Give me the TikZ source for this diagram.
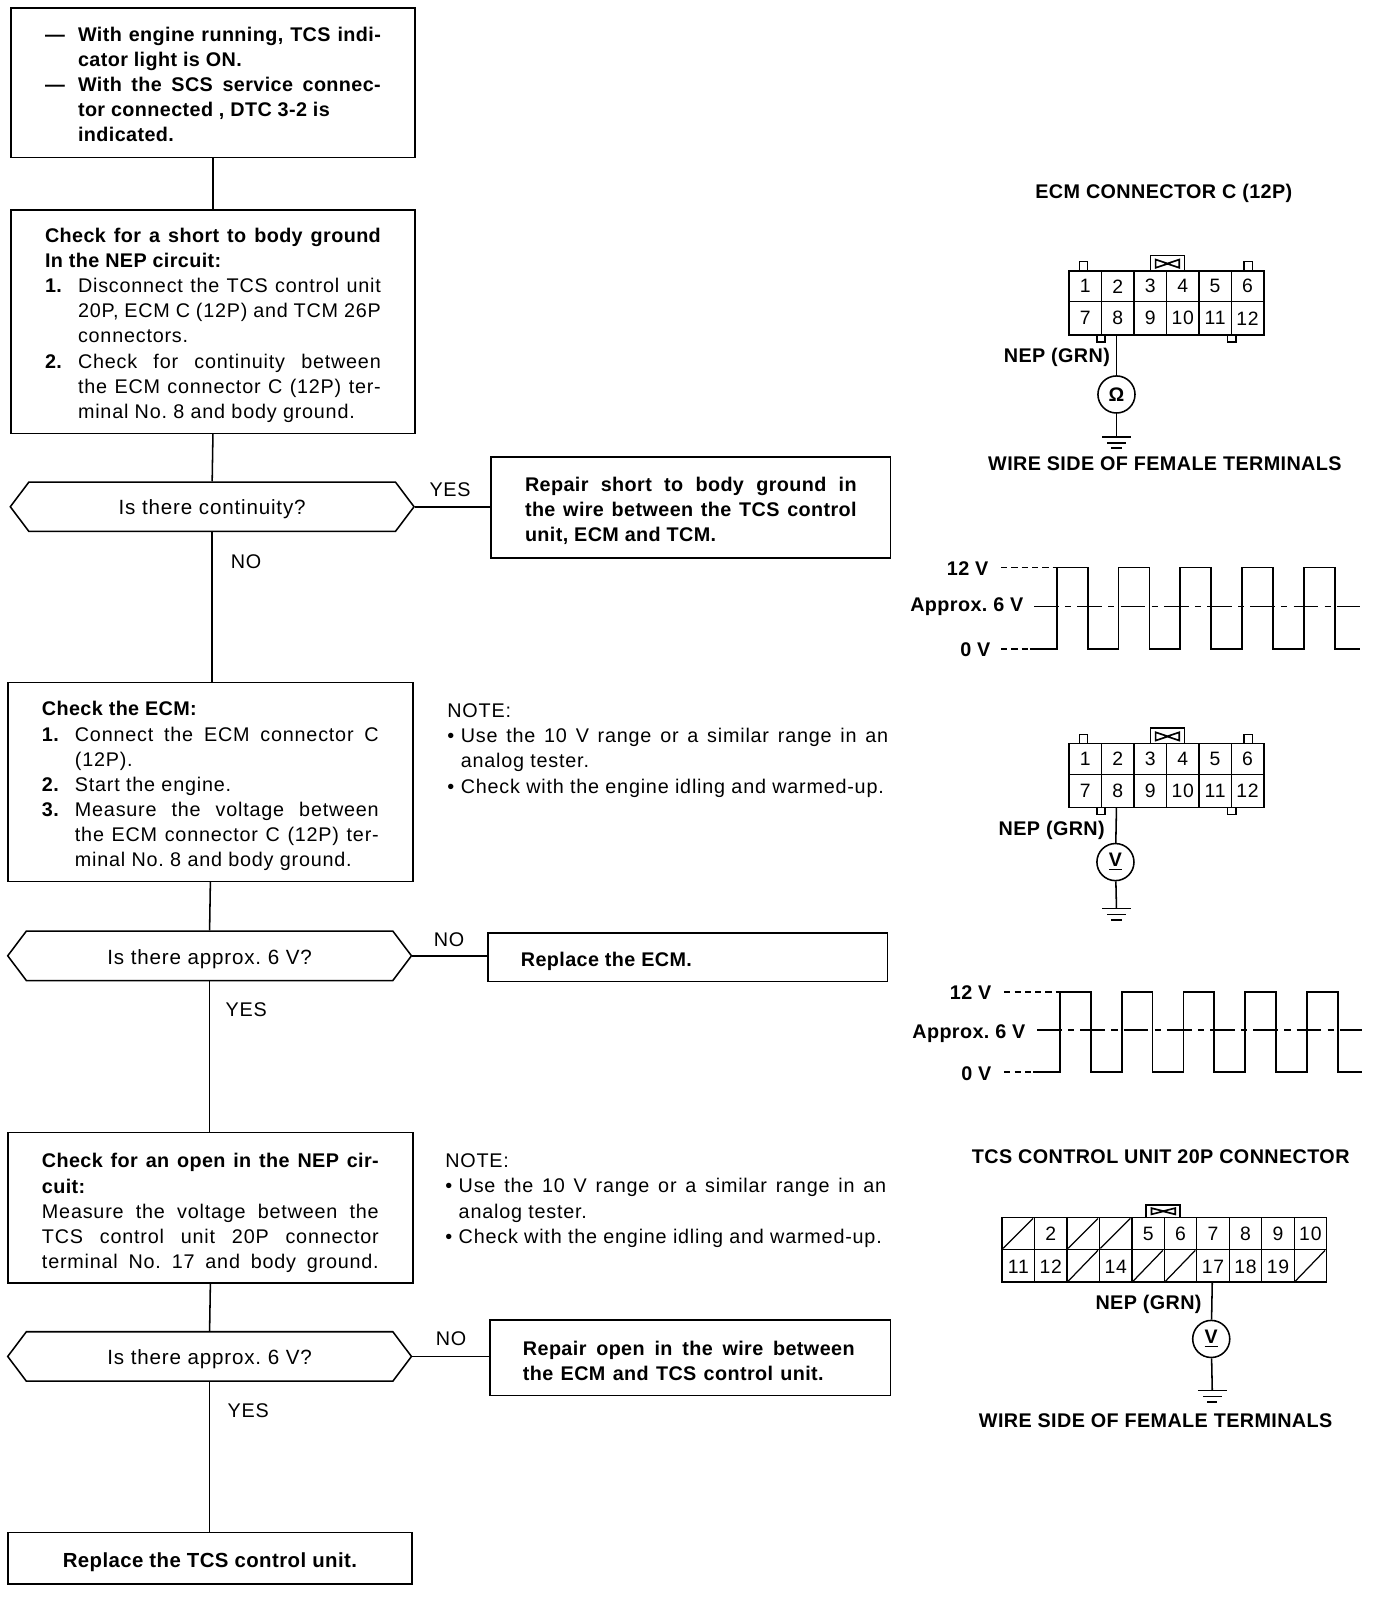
\documentclass[tikz,border=0pt]{standalone}
\usepackage{fontspec}
\setmainfont[LetterSpace=4,BoldFeatures={LetterSpace=2}]{Liberation Sans}
\usetikzlibrary{shapes.symbols}
\AtBeginDocument{\frenchspacing}
\newcommand{\jfull}[3]{\leavevmode\hbox to #1{\hbox to 16pt{#2\hss}\makebox[\dimexpr#1-16pt\relax][s]{#3}}}
\newcommand{\jplain}[3]{\leavevmode\hbox to #1{\hbox to 16pt{#2\hss}#3\hss}}
\newcommand{\jwhole}[2]{\makebox[#1][s]{#2}}
\newcommand{\bulfull}[1]{\leavevmode\hbox to 214pt{\hbox to 6.5pt{•\hss}\makebox[207.5pt][s]{#1}}}
\newcommand{\bulplain}[1]{\leavevmode\hbox to 214pt{\hbox to 6.5pt{•\hss}#1\hss}}
\newcommand{\topgap}[1]{\rule{0pt}{\dimexpr7pt+#1\relax}}
\newcommand{\dectext}[1]{\raisebox{-4pt}[0pt][0pt]{#1}}
\tikzset{
  txt/.style={font=\fontsize{9.6}{12.2}\selectfont},
  btxt/.style={font=\fontsize{9.6}{12.2}\selectfont\bfseries},
  procbox/.style={draw,line width=.75pt,rectangle,inner ysep=0pt,align=flush left,anchor=north west},
  decision/.style={draw,line width=.75pt,shape=signal,signal to=west and east,signal pointer angle=106,minimum width=196pt,minimum height=24pt,inner sep=0pt,font=\fontsize{10}{12.2}\selectfont},
  link/.style={line width=.75pt},
  cellnum/.style={inner sep=0pt,font=\fontsize{9.4}{11}\selectfont},
  meter/.style={draw,circle,line width=.75pt,minimum size=18pt,inner sep=0pt,font=\fontsize{9.5}{11}\selectfont\bfseries},
  lab/.style={inner sep=0pt,btxt,yshift=-1pt},
  ylab/.style={inner sep=0pt,txt,yshift=-1pt},
  note/.style={inner sep=0pt,align=left,anchor=north west,txt},
  wave/.style={line width=.85pt},
  ecmconn/.pic={
    \draw[line width=.75pt] (0,0) rectangle (189,62);
    \draw[line width=.6pt] (0,30) -- (189,30);
    \foreach \k in {1,...,5} \draw[line width=.6pt] ({\k*31.5},0) -- ({\k*31.5},62);
    \foreach \n [count=\i from 0] in {1,...,6} \node[cellnum] (-n\n) at ({15.75+\i*31.5},15) {\n};
    \foreach \n [count=\i from 0] in {7,...,12} \node[cellnum] (-n\n) at ({15.75+\i*31.5},46) {\n};
    \draw[line width=.9pt] (79,0) -- (79,-15) -- (112,-15) -- (112,0);
    \draw[line width=.8pt] (84,-11) -- (96,-7) -- (84,-3) -- cycle (107,-11) -- (95,-7) -- (107,-3) -- cycle;
    \draw[line width=.75pt] (10,0) -- (10,-9) -- (18,-9) -- (18,0) (170,0) -- (170,-9) -- (178,-9) -- (178,0);
    \draw[line width=.75pt] (27,62) -- (27,69) -- (35,69) -- (35,62) (154,62) -- (154,69) -- (162,69) -- (162,62);
    \coordinate (-w) at (46,62);
  },
  gnd/.pic={
    \coordinate (-t) at (0,0);
    \draw[line width=.8pt] (-14,0) -- (14,0) (-9,6) -- (9,6);
    \draw[line width=1pt] (-5,11) -- (5,11);
  },
}
\begin{document}
\begin{tikzpicture}[x=.5pt,y=-.5pt]
\useasboundingbox (0,0) rectangle (1336,1569);
% flow column
\node[procbox,btxt,text width=163pt,inner xsep=16.5pt,minimum height=72.5pt] (b1) at (10,7) {\topgap{1.5pt}%
\jfull{163pt}{—}{With engine running, TCS indi-}\\
\jplain{163pt}{}{cator light is ON.}\\
\jfull{163pt}{—}{With the SCS service connec-}\\
\jplain{163pt}{}{tor connected , DTC 3-2 is}\\
\jplain{163pt}{}{indicated.}};
\node[procbox,txt,text width=163pt,inner xsep=16.5pt,minimum height=108.5pt] (b2) at (10,203) {\topgap{3.5pt}%
\jwhole{163pt}{\bfseries Check for a short to body ground}\\
{\bfseries In the NEP circuit:}\\
\jfull{163pt}{\textbf{1.}}{Disconnect the TCS control unit}\\
\jfull{163pt}{}{20P, ECM C (12P) and TCM 26P}\\
\jplain{163pt}{}{connectors.}\\
\jfull{163pt}{\textbf{2.}}{Check for continuity between}\\
\jfull{163pt}{}{the ECM connector C (12P) ter-}\\
\jplain{163pt}{}{minal No. 8 and body ground.}};
\node[decision] (d1) at (206,492) {\dectext{Is there continuity?}};
\node[procbox,btxt,text width=161pt,inner xsep=16.5pt,minimum height=49pt] (r1) at (476,443) {\topgap{3.5pt}%
\jwhole{161pt}{Repair short to body ground in}\\
\jwhole{161pt}{the wire between the TCS control}\\
unit, ECM and TCM.};
\node[procbox,txt,text width=163.5pt,inner xsep=16.5pt,minimum height=96.5pt] (b3) at (7,662) {\topgap{4pt}%
{\bfseries Check the ECM:}\\
\jfull{163.5pt}{\textbf{1.}}{Connect the ECM connector C}\\
\jplain{163.5pt}{}{(12P).}\\
\jplain{163.5pt}{\textbf{2.}}{Start the engine.}\\
\jfull{163.5pt}{\textbf{3.}}{Measure the voltage between}\\
\jfull{163.5pt}{}{the ECM connector C (12P) ter-}\\
\jplain{163.5pt}{}{minal No. 8 and body ground.}};
\node[decision] (d2) at (203.5,928) {\dectext{Is there approx. 6 V?}};
\node[procbox,btxt,text width=162pt,inner xsep=16pt,minimum height=23.5pt] (r2) at (473,905) {\topgap{4pt}Replace the ECM.};
\node[procbox,txt,text width=163.5pt,inner xsep=16.5pt,minimum height=73pt] (b4) at (7,1099) {\topgap{5pt}%
\jwhole{163.5pt}{\bfseries Check for an open in the NEP cir-}\\
{\bfseries cuit:}\\
\jwhole{163.5pt}{Measure the voltage between the}\\
\jwhole{163.5pt}{TCS control unit 20P connector}\\
\jwhole{163.5pt}{terminal No. 17 and body ground.}};
\node[decision] (d3) at (203.5,1317) {\dectext{Is there approx. 6 V?}};
\node[procbox,btxt,text width=162.5pt,inner xsep=16pt,minimum height=36.5pt] (r3) at (475,1281) {\topgap{3pt}%
\jwhole{161pt}{Repair open in the wire between}\\
\jwhole{146pt}{the ECM and TCS control unit.}};
\node[procbox,text width=196pt,inner xsep=0pt,minimum height=25pt,align=flush center,font=\fontsize{9.9}{12.2}\selectfont\bfseries] (b5) at (7,1487) {\topgap{4pt}Replace the TCS control unit.};
\draw[link] (b1.south) -- (b2.north);
\draw[link] (b2.south) -- (d1.north);
\draw[link] (d1.south) -- (d1.south |- b3.north);
\draw[link] (b3.south) -- (d2.north);
\draw[link] (d2.south) -- (d2.south |- b4.north);
\draw[link] (b4.south) -- (d3.north);
\draw[link] (d3.south) -- (d3.south |- b5.north);
\draw[link] (d1.east) -- (d1.east -| r1.west);
\draw[link] (d2.east) -- (d2.east -| r2.west);
\draw[link] (d3.east) -- (d3.east -| r3.west);
\node[ylab] (l1) at (437,473) {YES};
\node[ylab] (l2) at (239,543) {NO};
\node[ylab] (l3) at (436,910) {NO};
\node[ylab] (l4) at (239,978) {YES};
\node[ylab] (l5) at (438,1298) {NO};
\node[ylab] (l6) at (241,1368) {YES};
% notes
\node[note] (n1) at (434,683) {NOTE:\\
\bulfull{Use the 10 V range or a similar range in an}\\
\hspace*{6.5pt}analog tester.\\
\bulplain{Check with the engine idling and warmed-up.}};
\node[note] (n2) at (432,1120) {NOTE:\\
\bulfull{Use the 10 V range or a similar range in an}\\
\hspace*{6.5pt}analog tester.\\
\bulplain{Check with the engine idling and warmed-up.}};
% first connector
\node[lab] (t1) at (1130,186) {ECM CONNECTOR C (12P)};
\pic (c1) at (1038,263) {ecmconn};
\node[lab,anchor=east] (nep1) at (1078,345) {NEP (GRN)};
\node[meter] (m1) at (1084,383) {Ω};
\pic (g1) at (1084,424) {gnd};
\draw[link] (c1-w) -- (m1);
\draw[link] (m1) -- (g1-t);
\node[lab] (w1) at (1131,448) {WIRE SIDE OF FEMALE TERMINALS};
% first wave
\node[lab,anchor=east] (v1a) at (960,550) {12 V};
\node[lab,anchor=east] (v1b) at (994,587) {Approx. 6 V};
\node[lab,anchor=east] (v1c) at (962,629) {0 V};
\coordinate (wa) at (1026,551);
\coordinate (wb) at (1026,630);
\draw[link,dash pattern=on 3pt off 2pt] (972,551) -- (wa);
\draw[link,dash pattern=on 3pt off 2pt] (972,630) -- (wb);
\draw[wave] (1000,630) -- (1026,630) -- (1026,551) -- (1056,551) -- (1056,630) -- (1086,630) -- (1086,551) -- (1116,551) -- (1116,630) -- (1146,630) -- (1146,551) -- (1176,551) -- (1176,630) -- (1206,630) -- (1206,551) -- (1236,551) -- (1236,630) -- (1266,630) -- (1266,551) -- (1296,551) -- (1296,630) -- (1320,630);
\draw[link,dash pattern=on 12pt off 3pt on 3pt off 3pt] (1004,589) -- (1320,589);
% second connector
\pic (c2) at (1038,722) {ecmconn};
\node[lab,anchor=east] (nep2) at (1073,804) {NEP (GRN)};
\node[meter] (m2) at (1083,837) {\underline{V}};
\pic (g2) at (1084,882) {gnd};
\draw[link] (c2-w) -- (m2);
\draw[link] (m2) -- (g2-t);
% second wave
\node[lab,anchor=east] (v2a) at (963,962) {12 V};
\node[lab,anchor=east] (v2b) at (996,1002) {Approx. 6 V};
\node[lab,anchor=east] (v2c) at (963,1040) {0 V};
\coordinate (wc) at (1029,963);
\coordinate (wd) at (1029,1041);
\draw[link,dash pattern=on 3pt off 2pt] (975,963) -- (wc);
\draw[link,dash pattern=on 3pt off 2pt] (975,1041) -- (wd);
\draw[wave] (1003,1041) -- (1029,1041) -- (1029,963) -- (1059,963) -- (1059,1041) -- (1089,1041) -- (1089,963) -- (1119,963) -- (1119,1041) -- (1149,1041) -- (1149,963) -- (1179,963) -- (1179,1041) -- (1209,1041) -- (1209,963) -- (1239,963) -- (1239,1041) -- (1269,1041) -- (1269,963) -- (1299,963) -- (1299,1041) -- (1322,1041);
\draw[link,dash pattern=on 12pt off 3pt on 3pt off 3pt] (1007,1000) -- (1322,1000);
% third connector
\node[lab] (t3) at (1127,1121) {TCS CONTROL UNIT 20P CONNECTOR};
\draw[line width=.8pt] (973,1182) rectangle (1288,1245);
\draw[line width=.6pt] (973,1213) -- (1288,1213);
\foreach \k in {1,...,9} \draw[line width=.6pt] ({973+\k*31.5},1182) -- ({973+\k*31.5},1245);
\foreach \n/\c in {2/1,5/4,6/5,7/6,8/7,9/8,10/9} \node[cellnum] (k\n) at ({973+15.75+\c*31.5},1198) {\n};
\foreach \n/\c in {11/0,12/1,14/3,17/6,18/7,19/8} \node[cellnum] (k\n) at ({973+15.75+\c*31.5},1230) {\n};
\foreach \c in {0,2,3} \draw[line width=.6pt] ({973+\c*31.5+1},1212) -- ({973+\c*31.5+30},1183);
\foreach \c in {2,4,5,9} \draw[line width=.6pt] ({973+\c*31.5+1},1244) -- ({973+\c*31.5+30},1214);
\draw[line width=.9pt] (1113,1182) -- (1113,1170) -- (1146,1170) -- (1146,1182);
\draw[line width=.8pt] (1118,1173) -- (1130,1176) -- (1118,1179) -- cycle (1141,1173) -- (1129,1176) -- (1141,1179) -- cycle;
\coordinate (c3w) at (1177,1245);
\node[lab,anchor=east] (nep3) at (1167,1264) {NEP (GRN)};
\node[meter] (m3) at (1176,1300) {\underline{V}};
\pic (g3) at (1177,1350) {gnd};
\draw[link] (c3w) -- (m3);
\draw[link] (m3) -- (g3-t);
\node[lab] (w3) at (1122,1377) {WIRE SIDE OF FEMALE TERMINALS};
\end{tikzpicture}
\end{document}
